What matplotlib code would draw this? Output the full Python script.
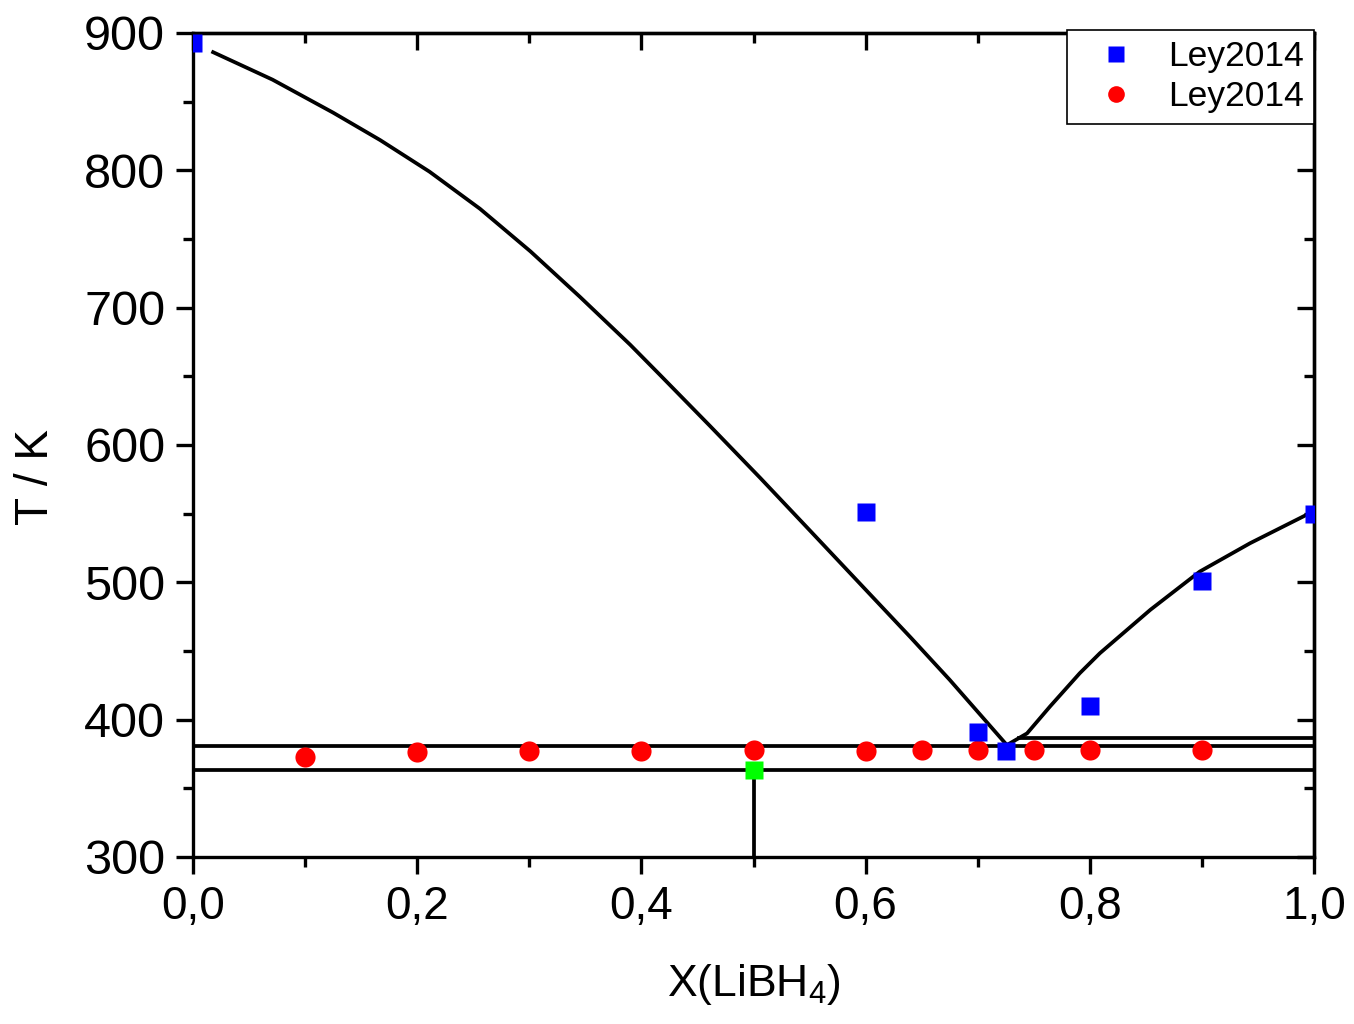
import matplotlib
matplotlib.use("Agg")
import matplotlib.pyplot as plt
from matplotlib.ticker import MultipleLocator, FuncFormatter

plt.rcParams['font.family'] = ['Liberation Sans', 'DejaVu Sans']
plt.rcParams['mathtext.fontset'] = 'custom'
plt.rcParams['mathtext.rm'] = 'Liberation Sans'

# Data
liq_left_x = [0.018, 0.071, 0.125, 0.167, 0.211, 0.256, 0.301, 0.345, 0.390, 0.4166,
              0.461, 0.506, 0.550, 0.595, 0.640, 0.675, 0.726]
liq_left_T = [886, 866, 842, 822, 799, 772, 741, 708, 673, 651,
              614, 576, 538, 499, 460, 429, 381.5]
liq_right_x = [0.726, 0.744, 0.7645, 0.791, 0.809, 0.854, 0.898, 0.943, 0.999]
liq_right_T = [381.5, 390, 409.6, 433.8, 448.4, 480, 507.8, 528.5, 551.5]

eutectic_T = 381
lower_T = 363
upper_T = 386.5
upper_xmin = 0.737
vert_x = 0.5

blue_x = [0.0, 0.6, 0.7, 0.725, 0.8, 0.9, 1.0]
blue_T = [893, 551, 391, 377, 410, 501, 550]
red_x = [0.1, 0.2, 0.3, 0.4, 0.5, 0.6, 0.65, 0.7, 0.75, 0.8, 0.9]
red_T = [373, 376.7, 377.4, 377.4, 377.6, 377.4, 377.6, 377.6, 378, 377.8, 378.2]
green_x = [0.5]
green_T = [363]

fig = plt.figure(figsize=(13.54, 10.24), dpi=100)
ax = fig.add_axes([0.1425, 0.1631, 0.828, 0.8047])

lw = 2.7
ax.plot(liq_left_x, liq_left_T, color='black', lw=lw, solid_joinstyle='round')
ax.plot(liq_right_x, liq_right_T, color='black', lw=lw, solid_joinstyle='round')
ax.axhline(eutectic_T, color='black', lw=lw)
ax.axhline(lower_T, color='black', lw=lw)
ax.plot([upper_xmin, 1.0], [upper_T, upper_T], color='black', lw=lw)
ax.plot([vert_x, vert_x], [300, lower_T], color='black', lw=lw)

ax.plot(red_x, red_T, 'o', color='#ff0000', ms=14.5, mec='none', label='Ley2014', zorder=3)
ax.plot(blue_x, blue_T, 's', color='#0000ff', ms=13, mec='none', label='Ley2014', zorder=4)
ax.plot(green_x, green_T, 's', color='#00ff00', ms=13, mec='none', zorder=4)

ax.set_xlim(0, 1.0)
ax.set_ylim(300, 900)
ax.xaxis.set_major_locator(MultipleLocator(0.2))
ax.xaxis.set_minor_locator(MultipleLocator(0.1))
ax.yaxis.set_major_locator(MultipleLocator(100))
ax.yaxis.set_minor_locator(MultipleLocator(50))
ax.xaxis.set_major_formatter(FuncFormatter(lambda v, p: f"{v:.1f}".replace('.', ',')))

for s in ax.spines.values():
    s.set_linewidth(2.4)

ax.tick_params(axis='both', which='major', direction='out', length=12, width=2.4, pad=8)
ax.tick_params(axis='both', which='minor', direction='out', length=7, width=2.4)
ax.tick_params(axis='x', labelsize=33)
ax.tick_params(axis='y', labelsize=35)
ax.tick_params(which='both', top=False, right=False)

secx = ax.secondary_xaxis('top')
secx.xaxis.set_major_locator(MultipleLocator(0.2))
secx.xaxis.set_minor_locator(MultipleLocator(0.1))
secx.tick_params(which='major', direction='in', length=12, width=2.4, labeltop=False)
secx.tick_params(which='minor', direction='in', length=7, width=2.4)
secx.spines['top'].set_linewidth(2.4)
secy = ax.secondary_yaxis('right')
secy.yaxis.set_major_locator(MultipleLocator(100))
secy.yaxis.set_minor_locator(MultipleLocator(50))
secy.tick_params(which='major', direction='in', length=12, width=2.4, labelright=False)
secy.tick_params(which='minor', direction='in', length=7, width=2.4)
secy.spines['right'].set_linewidth(2.4)

ax.set_xlabel(r'X(LiBH$_4$)', fontsize=32, labelpad=24)
ax.set_ylabel('T / K', fontsize=33)
ax.yaxis.set_label_coords(-0.12, 0.461)

handles, labels = ax.get_legend_handles_labels()
leg = fig.legend(handles[::-1], labels[::-1], loc='upper right', bbox_to_anchor=(1.0, 1.004),
                 bbox_transform=ax.transAxes,
                 borderaxespad=0, fontsize=25.5, frameon=True, fancybox=False,
                 handletextpad=0.35, borderpad=0.3, labelspacing=0.2, handlelength=2.2)
leg.get_frame().set_edgecolor('black')
leg.get_frame().set_linewidth(1.2)
leg.get_frame().set_facecolor('white')
leg.get_frame().set_alpha(1.0)
for h in leg.legend_handles:
    h.set_markersize(12)

fig.savefig('out.png', dpi=100)
